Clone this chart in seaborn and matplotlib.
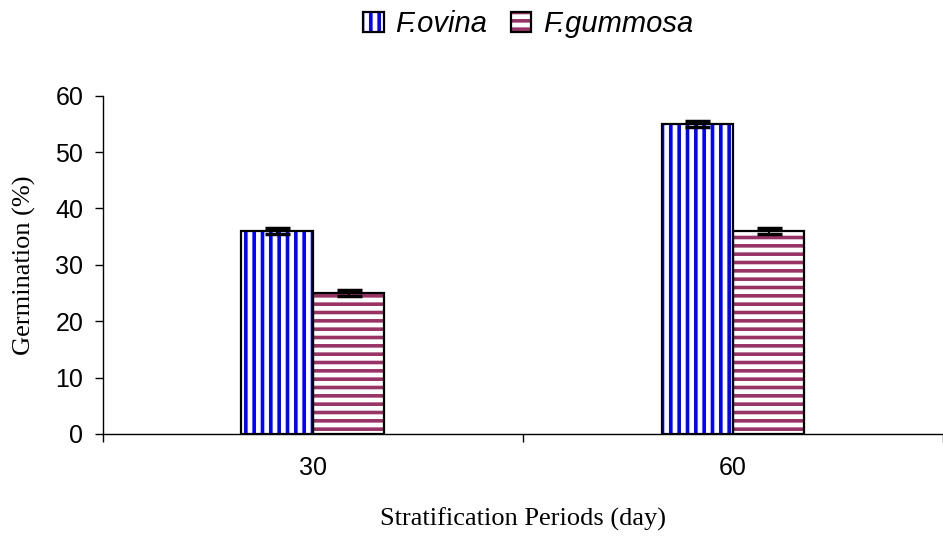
import matplotlib
matplotlib.use("Agg")
import matplotlib.pyplot as plt
import seaborn as sns
import pandas as pd
from matplotlib.patches import Rectangle, Patch
from matplotlib.legend_handler import HandlerTuple

periods = ["30", "60"]
species = ["F.ovina", "F.gummosa"]
ovina = [36, 55]
gummosa = [25, 36]
ovina_err = [0.5, 0.5]
gummosa_err = [0.6, 0.6]

hatch_colors = {"F.ovina": "#0000FF", "F.gummosa": "#993366"}
hatches = {"F.ovina": "||", "F.gummosa": "--"}

df = pd.DataFrame({
    "period": periods * 2,
    "species": [species[0]] * 2 + [species[1]] * 2,
    "germ": ovina + gummosa,
    "err": ovina_err + gummosa_err,
})

sns.set_theme(style="white")
plt.rcParams["hatch.linewidth"] = 2.6
plt.rcParams["font.family"] = ["Liberation Sans", "DejaVu Sans"]
plt.rcParams["text.color"] = "black"
plt.rcParams["axes.labelcolor"] = "black"

fig = plt.figure(figsize=(9.43, 5.41), dpi=100)
ax = fig.add_axes([0.109, 0.198, 0.891, 0.625])

sns.barplot(data=df, x="period", y="germ", hue="species", order=periods,
            hue_order=species, width=0.34, errorbar=None, ax=ax,
            palette=["white", "white"], legend=False)

handles = []
for container, sp in zip(ax.containers, species):
    sub = df[df["species"] == sp].set_index("period").loc[periods]
    xs, ys = [], []
    for bar in container:
        bar.set_facecolor("white")
        bar.set_edgecolor(hatch_colors[sp])
        bar.set_hatch(hatches[sp])
        bar.set_linewidth(0)
        r = Rectangle((bar.get_x(), bar.get_y()), bar.get_width(), bar.get_height(),
                      fill=False, edgecolor="black", linewidth=1.6, zorder=3)
        ax.add_patch(r)
        xs.append(bar.get_x() + bar.get_width() / 2)
        ys.append(bar.get_height())
    ax.errorbar(xs, ys, yerr=sub["err"].values, fmt="none", ecolor="black",
                elinewidth=1.5, capsize=9, capthick=2.5, zorder=4)
    h1 = Patch(facecolor="white", edgecolor=hatch_colors[sp], hatch=hatches[sp], linewidth=0)
    h2 = Patch(fill=False, edgecolor="black", linewidth=1.6)
    handles.append((h1, h2))

ax.set_ylim(0, 60)
ax.set_yticks(range(0, 61, 10))
ax.set_xlim(-0.5, 1.5)
ax.set_xticks([0, 1])
ax.set_xticklabels(periods)
ax.set_xticks([-0.5, 0.5, 1.5], minor=True)
ax.tick_params(axis="x", which="major", length=0, labelsize=18, pad=16, colors="black")
ax.tick_params(axis="x", which="minor", length=6, width=1, color="black", bottom=True)
ax.tick_params(axis="y", length=6, width=1, labelsize=18, colors="black", left=True, pad=8)
for s in ["top", "right"]:
    ax.spines[s].set_visible(False)
for s in ["left", "bottom"]:
    ax.spines[s].set_color("black")
    ax.spines[s].set_linewidth(1)

ax.set_xlabel("Stratification Periods (day)", fontsize=19, family=["Liberation Serif"], labelpad=20)
ax.set_ylabel("Germination (%)", fontsize=19, family=["Liberation Serif"], labelpad=14)

fig.legend(handles, species, loc="center", bbox_to_anchor=(0.56, 0.955), ncol=2,
           frameon=False, handler_map={tuple: HandlerTuple(ndivide=1)},
           prop={"style": "italic", "size": 21}, handlelength=0.7, handleheight=0.7,
           handletextpad=0.4, columnspacing=0.8, labelcolor="black")

fig.savefig("out.png", dpi=100)
